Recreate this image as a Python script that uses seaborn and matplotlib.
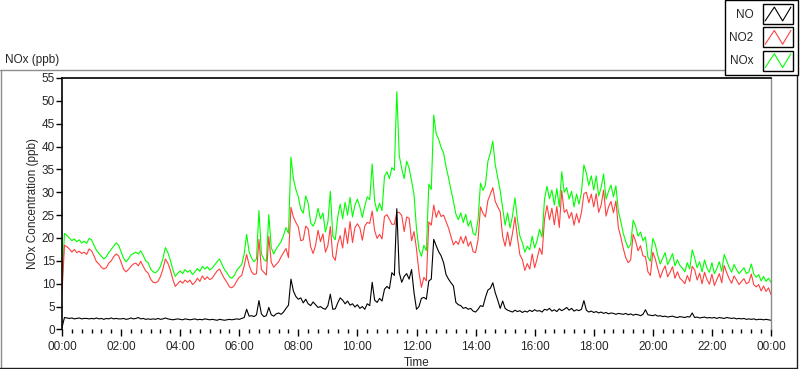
import numpy as np
import pandas as pd
import matplotlib
matplotlib.use("Agg")
import matplotlib.pyplot as plt
import seaborn as sns
from matplotlib.patches import Rectangle
from matplotlib.lines import Line2D
from matplotlib.legend_handler import HandlerBase
from matplotlib.ticker import MultipleLocator, FuncFormatter

# 5-minute readings, one row per hour (00:00 .. 23:55), plus the 24:00 point
nox = [
    9.5, 21.0, 20.6, 20.0, 19.4, 19.8, 19.2, 19.6, 18.9, 19.3, 18.8, 19.9,
    19.6, 18.4, 17.3, 16.6, 16.0, 15.4, 15.9, 16.8, 17.5, 18.2, 18.9, 18.4,
    17.0, 15.6, 14.8, 15.4, 16.3, 16.6, 16.9, 16.5, 17.2, 16.2, 15.0, 14.6,
    13.2, 12.6, 12.4, 12.9, 13.8, 15.5, 17.9, 16.8, 15.2, 13.1, 11.6, 12.3,
    12.8, 12.2, 13.1, 12.5, 12.9, 12.0, 12.6, 13.3, 12.7, 13.8, 13.2, 13.7,
    13.0, 13.4, 14.1, 14.8, 15.4, 14.2, 13.1, 12.4, 11.5, 11.2, 11.8, 12.9,
    13.6, 14.2, 16.5, 20.8, 17.0, 15.6, 14.8, 15.4, 26.0, 16.5, 15.3, 14.9,
    25.1, 17.9, 16.5, 17.6, 18.4, 19.2, 20.6, 22.3, 21.0, 37.7, 33.0, 30.6,
    29.0, 26.3, 25.4, 29.2, 27.6, 23.3, 22.6, 23.8, 26.5, 24.2, 25.5, 21.3,
    23.5, 30.2, 20.4, 19.6, 24.6, 27.4, 24.2, 27.8, 25.0, 28.9, 24.6, 27.2,
    28.5, 26.8, 24.5, 27.0, 29.0, 28.4, 36.2, 28.0, 25.8, 27.6, 26.0, 33.5,
    34.5, 33.0, 35.4, 34.8, 52.0, 38.0, 35.2, 33.0, 36.8, 35.3, 32.5, 29.4,
    22.0, 17.5, 16.0, 18.4, 17.2, 31.8, 30.6, 46.9, 42.8, 41.6, 39.8, 38.6,
    35.6, 33.2, 30.5, 28.0, 25.2, 24.0, 25.5, 23.4, 25.2, 22.6, 23.8, 21.0,
    20.6, 24.0, 32.0, 30.4, 31.6, 36.8, 38.6, 41.2, 36.0, 33.2, 30.4, 26.5,
    22.8, 25.5, 22.2, 24.8, 28.8, 24.0, 20.4, 19.0, 16.9, 18.2, 17.4, 20.4,
    17.8, 19.5, 21.9, 20.2, 28.5, 31.3, 28.6, 30.5, 27.2, 30.8, 26.8, 34.5,
    30.0, 31.0, 28.5, 30.2, 26.8, 29.6, 27.4, 30.0, 36.0, 34.2, 31.5, 33.6,
    30.5, 33.6, 29.2, 31.0, 34.0, 28.5, 30.2, 31.6, 29.0, 31.4, 25.8, 23.6,
    21.0, 19.2, 17.8, 18.6, 23.9, 22.6, 20.4, 21.3, 19.4, 20.2, 15.8, 14.9,
    19.9, 18.6, 16.2, 14.3, 15.6, 16.8, 14.2, 15.3, 16.6, 13.9, 15.2, 14.0,
    13.4, 12.6, 14.6, 13.2, 17.4, 15.6, 13.5, 14.8, 12.6, 15.2, 13.4, 12.5,
    14.6, 12.2, 13.3, 14.8, 12.7, 16.4, 15.0, 13.6, 12.5, 14.2, 13.1, 12.2,
    12.8, 13.5, 12.2, 12.6, 14.3, 12.1, 11.4, 12.0, 10.6, 11.6, 10.5, 11.2,
    10.3,
]

no2 = [
    8.0, 18.4, 18.1, 17.6, 16.9, 17.5, 16.8, 17.1, 16.6, 16.9, 16.4, 17.6,
    17.2, 16.1, 14.8, 14.3, 13.6, 13.2, 13.5, 14.5, 15.0, 15.9, 16.5, 16.1,
    14.7, 13.2, 12.6, 13.1, 13.8, 14.3, 14.5, 13.9, 14.9, 13.8, 12.8, 12.3,
    11.0, 10.3, 10.2, 10.5, 11.6, 13.2, 15.4, 14.5, 13.0, 11.0, 9.4, 10.0,
    10.6, 10.1, 10.8, 10.3, 10.8, 9.8, 10.3, 11.2, 10.5, 11.7, 10.9, 11.5,
    10.9, 11.2, 12.0, 12.8, 13.2, 12.1, 11.1, 10.3, 9.3, 9.1, 9.6, 10.6,
    11.4, 11.8, 13.9, 16.4, 14.1, 12.6, 12.0, 12.2, 19.7, 13.1, 12.5, 11.9,
    20.3, 14.7, 13.6, 14.2, 14.8, 15.9, 16.8, 17.7, 15.7, 26.7, 24.6, 23.4,
    22.4, 19.4, 19.6, 22.6, 22.0, 18.1, 16.6, 18.4, 21.7, 19.2, 20.9, 16.9,
    18.3, 22.5, 16.0, 15.1, 18.8, 20.5, 17.8, 22.2, 18.8, 23.6, 19.0, 22.3,
    23.1, 22.2, 19.5, 22.6, 23.4, 23.2, 25.9, 21.6, 19.9, 20.8, 19.8, 24.7,
    25.1, 24.1, 23.0, 23.0, 25.6, 25.6, 24.9, 21.4, 24.6, 24.3, 19.4, 21.4,
    17.6, 12.5, 9.2, 11.4, 10.6, 23.5, 22.8, 27.2, 24.5, 26.0, 24.7, 25.0,
    23.6, 22.2, 20.3, 18.5, 19.3, 18.6, 20.3, 18.8, 20.4, 18.2, 19.2, 17.0,
    16.8, 19.6, 26.8, 25.4, 24.6, 28.2, 29.6, 31.0, 28.0, 26.8, 25.8, 20.3,
    18.2, 21.3, 18.2, 21.0, 24.6, 20.1, 16.3, 15.3, 12.9, 14.4, 13.2, 16.5,
    13.5, 15.5, 17.8, 16.4, 24.1, 27.1, 24.0, 26.5, 22.9, 26.9, 22.3, 30.4,
    25.6, 26.2, 24.3, 25.6, 22.8, 25.3, 23.3, 25.6, 29.7, 30.0, 27.7, 29.6,
    26.8, 29.7, 25.6, 27.2, 30.5, 24.8, 26.8, 28.0, 25.5, 28.1, 22.3, 20.2,
    17.7, 15.7, 14.6, 15.2, 20.8, 19.3, 17.2, 18.3, 16.1, 15.9, 12.6, 11.8,
    16.9, 15.4, 13.3, 11.3, 12.8, 13.9, 11.5, 12.5, 13.7, 11.2, 12.6, 11.2,
    10.7, 10.0, 11.8, 10.5, 13.8, 13.0, 10.8, 12.3, 10.0, 12.5, 10.9, 9.9,
    12.1, 9.6, 10.9, 12.2, 10.2, 14.0, 12.4, 11.1, 10.1, 11.7, 10.8, 9.8,
    10.5, 11.1, 10.0, 10.3, 12.1, 9.8, 9.3, 9.8, 8.4, 9.5, 8.3, 9.1,
    7.6,
]

no = [
    0.4, 2.6, 2.5, 2.4, 2.5, 2.3, 2.4, 2.5, 2.3, 2.4, 2.4, 2.3,
    2.4, 2.3, 2.5, 2.3, 2.4, 2.2, 2.4, 2.3, 2.5, 2.3, 2.4, 2.3,
    2.3, 2.4, 2.2, 2.3, 2.5, 2.3, 2.4, 2.6, 2.3, 2.4, 2.2, 2.3,
    2.2, 2.3, 2.2, 2.4, 2.2, 2.3, 2.5, 2.3, 2.2, 2.1, 2.2, 2.3,
    2.2, 2.1, 2.3, 2.2, 2.1, 2.2, 2.3, 2.1, 2.2, 2.1, 2.3, 2.2,
    2.1, 2.2, 2.1, 2.0, 2.2, 2.1, 2.0, 2.1, 2.2, 2.1, 2.2, 2.3,
    2.2, 2.4, 2.6, 4.4, 2.9, 3.0, 2.8, 3.2, 6.3, 3.4, 2.8, 3.0,
    4.8, 3.2, 2.9, 3.4, 3.6, 3.3, 3.8, 4.6, 5.3, 11.0, 8.4, 7.2,
    6.6, 6.9, 5.8, 6.6, 5.6, 5.2, 6.0, 5.4, 4.8, 5.0, 4.6, 4.4,
    5.2, 7.7, 4.4, 4.5, 5.8, 6.9, 6.4, 5.6, 6.2, 5.3, 5.6, 4.9,
    5.4, 4.6, 5.0, 4.4, 5.6, 5.2, 10.3, 6.4, 5.9, 6.8, 6.2, 8.8,
    9.4, 8.9, 12.4, 11.8, 26.4, 12.4, 10.3, 11.6, 12.2, 11.0, 13.1, 8.0,
    4.4, 5.0, 6.8, 7.0, 6.6, 10.6, 11.0, 19.7, 18.3, 17.0, 16.1, 14.6,
    12.0, 11.0, 10.2, 9.5, 5.9, 5.4, 5.2, 4.6, 4.8, 4.4, 4.6, 4.0,
    3.8, 4.4, 5.2, 5.0, 7.0, 8.6, 9.0, 10.2, 8.0, 6.4, 4.6, 6.2,
    4.6, 4.2, 4.0, 3.8, 4.2, 3.9, 4.1, 3.7, 4.0, 3.8, 4.2, 3.9,
    4.3, 4.0, 4.1, 3.8, 4.4, 4.2, 4.6, 4.0, 4.3, 3.9, 4.5, 4.1,
    4.4, 4.8, 4.2, 4.6, 4.0, 4.3, 4.1, 4.4, 6.3, 4.2, 3.8, 4.0,
    3.7, 3.9, 3.6, 3.8, 3.5, 3.7, 3.4, 3.6, 3.5, 3.3, 3.5, 3.4,
    3.3, 3.5, 3.2, 3.4, 3.1, 3.3, 3.2, 3.0, 3.3, 4.3, 3.2, 3.1,
    3.0, 3.2, 2.9, 3.0, 2.8, 2.9, 2.7, 2.8, 2.9, 2.7, 2.6, 2.8,
    2.7, 2.6, 2.8, 2.7, 3.6, 2.6, 2.7, 2.5, 2.6, 2.7, 2.5, 2.6,
    2.5, 2.6, 2.4, 2.6, 2.5, 2.4, 2.6, 2.5, 2.4, 2.5, 2.3, 2.4,
    2.3, 2.4, 2.2, 2.3, 2.2, 2.3, 2.1, 2.2, 2.2, 2.1, 2.2, 2.1,
    2.0,
]

series_names = ["NO", "NO2", "NOx"]
colors = {"NO": "black", "NO2": "#ff4040", "NOx": "#00ff00"}

hours = np.arange(len(nox)) * 5 / 60
df = pd.DataFrame({"hours": hours, "NO": no, "NO2": no2, "NOx": nox})

sns.set_style("white")
plt.rcParams["font.family"] = ["Liberation Sans", "DejaVu Sans"]
plt.rcParams["font.size"] = 8

fig = plt.figure(figsize=(8, 3.69), dpi=100)
W, H = 800, 369
ax = fig.add_axes([62 / W, 1 - 329.4 / H, 709 / W, (329.4 - 78) / H])

# draw NOx under NO2 under NO
for name in ["NOx", "NO2", "NO"]:
    sns.lineplot(data=df, x="hours", y=name, ax=ax, color=colors[name],
                 linewidth=0.8, label=name, legend=False)

ax.set_xlim(0, 24)
ax.set_ylim(0, 55)
ax.yaxis.set_major_locator(MultipleLocator(5))
ax.xaxis.set_major_locator(MultipleLocator(2))
ax.xaxis.set_minor_locator(MultipleLocator(1 / 3))
ax.xaxis.set_major_formatter(FuncFormatter(lambda v, p: f"{int(round(v)) % 24:02d}:00"))

ax.tick_params(axis="y", which="major", direction="out", length=4, width=1,
               color="black", pad=1, labelsize=8.5, left=True)
ax.tick_params(axis="x", which="major", direction="out", length=5, width=1,
               color="black", pad=3, labelsize=8.5, bottom=True)
ax.tick_params(axis="x", which="minor", direction="out", length=3, width=1,
               color="black", bottom=True)

for side in ["top", "left"]:
    ax.spines[side].set_color("black")
    ax.spines[side].set_linewidth(1.2)
ax.spines["right"].set_color("#8c8c8c")
ax.spines["right"].set_linewidth(1)
ax.spines["bottom"].set_visible(False)

ax.set_xlabel("Time", fontsize=8.5, labelpad=3)
ax.set_ylabel("NOx Concentration (ppb)", fontsize=8.5, labelpad=2)

# outer panel frame
fig.add_artist(Line2D([0, 729 / W], [1 - 69.5 / H] * 2, transform=fig.transFigure,
                      color="#8c8c8c", lw=1))
fig.add_artist(Line2D([0.6 / W] * 2, [1 - 69.5 / H, 1 - 368 / H], transform=fig.transFigure,
                      color="#8c8c8c", lw=1))
fig.add_artist(Line2D([0, 797 / W], [1 - 367.5 / H] * 2, transform=fig.transFigure,
                      color="#202020", lw=1))
fig.add_artist(Line2D([797 / W] * 2, [1 - 72 / H, 1 - 368 / H], transform=fig.transFigure,
                      color="#202020", lw=1))
fig.text(5 / W, 1 - 60 / H, "NOx (ppb)", fontsize=8.5, va="center", ha="left")


class BoxedZigzag(HandlerBase):
    def create_artists(self, legend, orig_handle, xdescent, ydescent, width, height,
                       fontsize, trans):
        x0, y0 = -xdescent, -ydescent
        box = Rectangle((x0, y0), width, height, facecolor="white",
                        edgecolor="black", lw=1, transform=trans)
        zx = x0 + width * np.array([0.08, 0.38, 0.65, 0.92])
        zy = y0 + height * np.array([0.15, 0.85, 0.15, 0.85])
        zig = Line2D(zx, zy, color=orig_handle.get_color(), lw=0.8, transform=trans)
        return [box, zig]


handles = [Line2D([], [], color=colors[n]) for n in series_names]
leg = fig.legend(handles, series_names, loc="upper right",
                 bbox_to_anchor=(797.5 / W, 1.0), bbox_transform=fig.transFigure,
                 handler_map={Line2D: BoxedZigzag()}, markerfirst=False,
                 handlelength=2.6, handleheight=2.2, handletextpad=0.8,
                 labelspacing=0.3, borderpad=0.35, borderaxespad=0,
                 fancybox=False, framealpha=1, edgecolor="black", fontsize=8.5)
leg.get_frame().set_linewidth(1)

fig.savefig("out.png", dpi=100)
